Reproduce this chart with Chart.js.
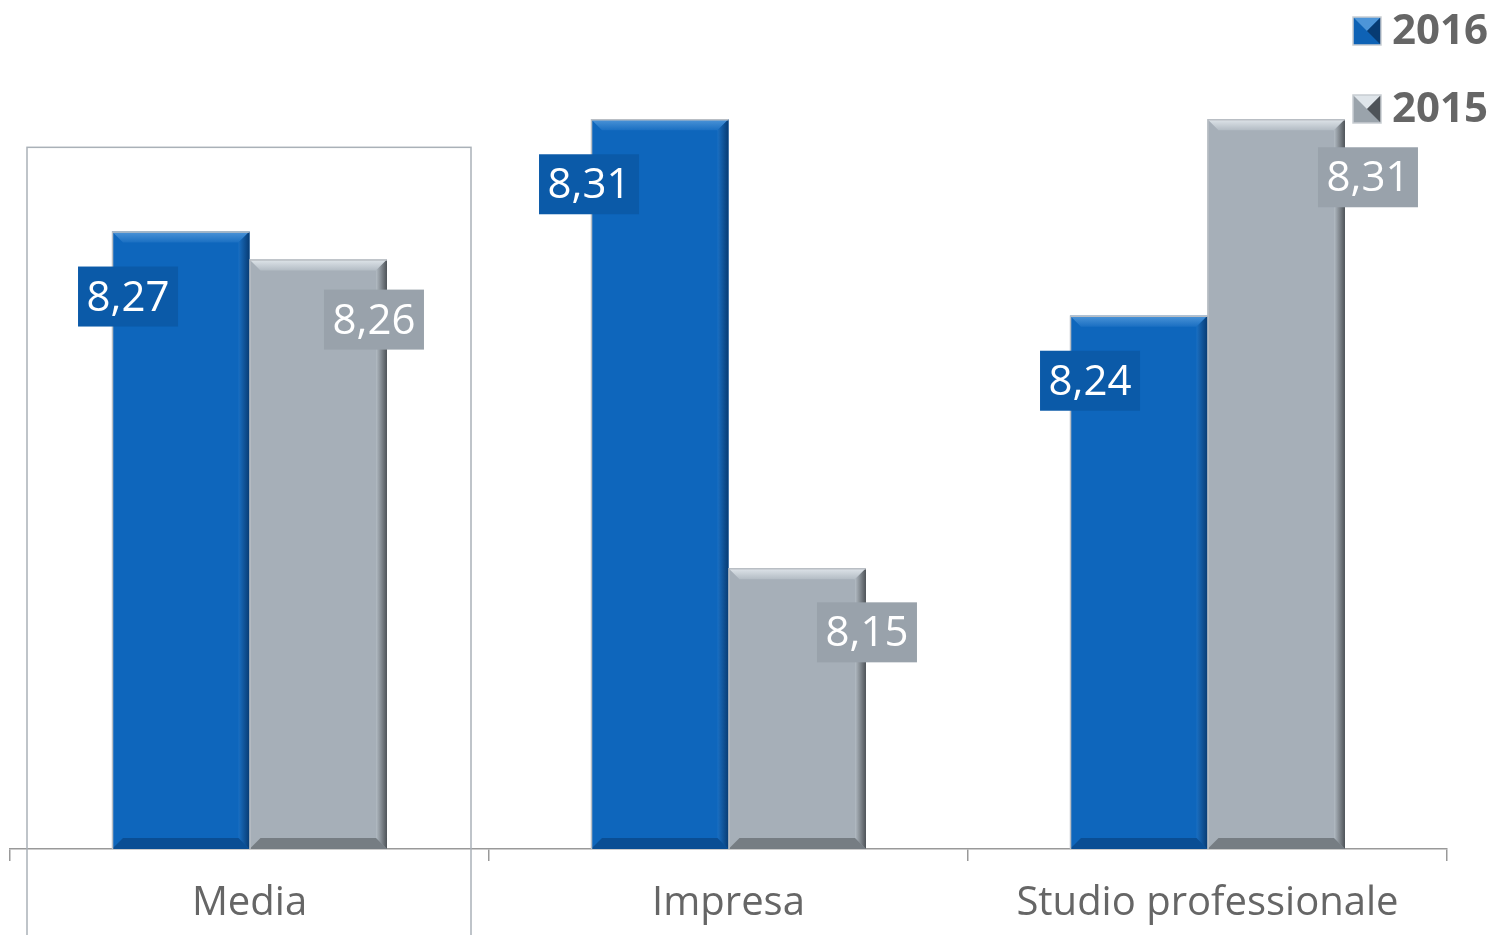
<!DOCTYPE html>
<html>
<head>
<meta charset="utf-8">
<script src="https://cdn.jsdelivr.net/npm/chart.js@4/dist/chart.umd.min.js"></script>
<style>
  html, body { margin: 0; padding: 0; background: #fff; }
  #wrap { width: 1493px; height: 935px; }
</style>
</head>
<body>
<div id="wrap"><canvas id="chart"></canvas></div>
<script>
// data
const categories = ['Media', 'Impresa', 'Studio professionale']
const values2016 = [8.27, 8.31, 8.24]
const values2015 = [8.26, 8.15, 8.31]
const seriesNames = ['2016', '2015']

// label nudges (px) : horizontal from bar edge, vertical from bar top
const labelDx2016 = [16, -2, 20]
const labelDy2016 = [35, 35, 35]
const labelDx2015 = [-13, 1, 23]
const labelDy2015 = [30, 34, 28]

const BLUE = '#0e66bc'
const GRAY = '#a6afb8'
const fmt = v => v.toFixed(2).replace('.', ',')

function bevel(ctx, el, bottom, light, dark, side) {
  const L = el.x - el.width / 2, R = el.x + el.width / 2
  const T = el.y, B = Math.min(el.base, bottom), b = 11
  ctx.save()
  // top
  let g = ctx.createLinearGradient(0, T, 0, T + b)
  g.addColorStop(0, light); g.addColorStop(1, side)
  ctx.fillStyle = g
  ctx.beginPath(); ctx.moveTo(L, T); ctx.lineTo(R, T); ctx.lineTo(R - b, T + b); ctx.lineTo(L + b, T + b); ctx.closePath(); ctx.fill()
  // right
  g = ctx.createLinearGradient(R - b, 0, R, 0)
  g.addColorStop(0, side); g.addColorStop(1, dark)
  ctx.fillStyle = g
  ctx.beginPath(); ctx.moveTo(R, T); ctx.lineTo(R, B); ctx.lineTo(R - b, B - b); ctx.lineTo(R - b, T + b); ctx.closePath(); ctx.fill()
  // bottom
  ctx.fillStyle = dark
  ctx.globalAlpha = 0.55
  ctx.beginPath(); ctx.moveTo(L, B); ctx.lineTo(R, B); ctx.lineTo(R - b, B - b); ctx.lineTo(L + b, B - b); ctx.closePath(); ctx.fill()
  ctx.globalAlpha = 1
  // thin outline
  ctx.strokeStyle = '#b9bec4'
  ctx.lineWidth = 1.5
  ctx.beginPath(); ctx.moveTo(L + 0.5, B); ctx.lineTo(L + 0.5, T + 0.5); ctx.lineTo(R, T + 0.5); ctx.stroke()
  ctx.restore()
}

const deco = {
  id: 'deco',
  beforeDatasetsDraw(chart) {
    const { ctx, scales: { x, y } } = chart
    const half = (x.getPixelForValue(1) - x.getPixelForValue(0)) / 2
    const cx = x.getPixelForValue(0)
    ctx.save()
    ctx.strokeStyle = '#aab1b8'
    ctx.lineWidth = 1.5
    ctx.strokeRect(cx - half + 17, y.getPixelForValue(8.30), 2 * half - 35, chart.height)
    ctx.restore()
  },
  afterDatasetsDraw(chart) {
    const { ctx, chartArea } = chart
    const m0 = chart.getDatasetMeta(0), m1 = chart.getDatasetMeta(1)
    m0.data.forEach(el => bevel(ctx, el, chartArea.bottom, '#4d95d8', '#073b73', '#1a6fc2'))
    m1.data.forEach(el => bevel(ctx, el, chartArea.bottom, '#dfe5ea', '#4e5358', '#b3bcc4'))

    ctx.save()
    ctx.font = '42px "Open Sans"'
    ctx.textAlign = 'center'
    ctx.textBaseline = 'middle'
    const box = (cxp, top, text, color) => {
      ctx.fillStyle = color
      ctx.fillRect(cxp - 50, top, 100, 60)
      ctx.fillStyle = '#fff'
      ctx.fillText(text, cxp, top + 32)
    }
    m0.data.forEach((el, i) => box(el.x - el.width / 2 + labelDx2016[i], el.y + labelDy2016[i], fmt(values2016[i]), '#0b5aa8'))
    m1.data.forEach((el, i) => box(el.x + el.width / 2 + labelDx2015[i], el.y + labelDy2015[i], fmt(values2015[i]), '#99a2ab'))

    // legend
    const items = [[seriesNames[0], '#0e62b5', '#4d95d8', '#073b73'], [seriesNames[1], '#9aa3ab', '#dfe5ea', '#4e5358']]
    items.forEach(([name, c, lt, dk], i) => {
      const sx = 1353, sy = 17 + i * 78, s = 28, mx = sx + s / 2, my = sy + s / 2
      ctx.fillStyle = c; ctx.fillRect(sx, sy, s, s)
      ctx.fillStyle = lt
      ctx.beginPath(); ctx.moveTo(sx, sy); ctx.lineTo(sx + s, sy); ctx.lineTo(mx, my); ctx.closePath(); ctx.fill()
      ctx.fillStyle = dk
      ctx.beginPath(); ctx.moveTo(sx + s, sy); ctx.lineTo(sx + s, sy + s); ctx.lineTo(mx, my); ctx.closePath(); ctx.fill()
      ctx.strokeStyle = '#c8cdd2'; ctx.lineWidth = 1.5
      ctx.strokeRect(sx, sy, s, s)
      ctx.fillStyle = '#666'
      ctx.font = 'bold 42px "Open Sans"'
      ctx.textAlign = 'left'
      ctx.fillText(name, 1392, my + 1)
    })
    ctx.restore()
  }
}

new Chart(document.getElementById('chart'), {
  type: 'bar',
  data: {
    labels: categories,
    datasets: [{
      label: seriesNames[0],
      data: values2016,
      backgroundColor: BLUE,
      categoryPercentage: 0.574,
      barPercentage: 1
    }, {
      label: seriesNames[1],
      data: values2015,
      backgroundColor: GRAY,
      categoryPercentage: 0.574,
      barPercentage: 1
    }]
  },
  options: {
    responsive: true,
    maintainAspectRatio: false,
    animation: false,
    layout: { padding: { left: 10, right: 46, top: 7, bottom: 0 } },
    plugins: { legend: { display: false }, tooltip: { enabled: false } },
    scales: {
      x: {
        grid: { display: true, drawOnChartArea: false, offset: true, tickLength: 12, color: '#999', lineWidth: 1.5 },
        border: { display: true, color: '#999', width: 1.5 },
        ticks: { color: '#666', font: { family: '"Open Sans"', size: 40 }, padding: 19 },
        afterFit(scale) { scale.height = 86 }
      },
      y: { display: false, min: 8.05, max: 8.35 }
    }
  },
  plugins: [deco]
})
</script>
</body>
</html>
